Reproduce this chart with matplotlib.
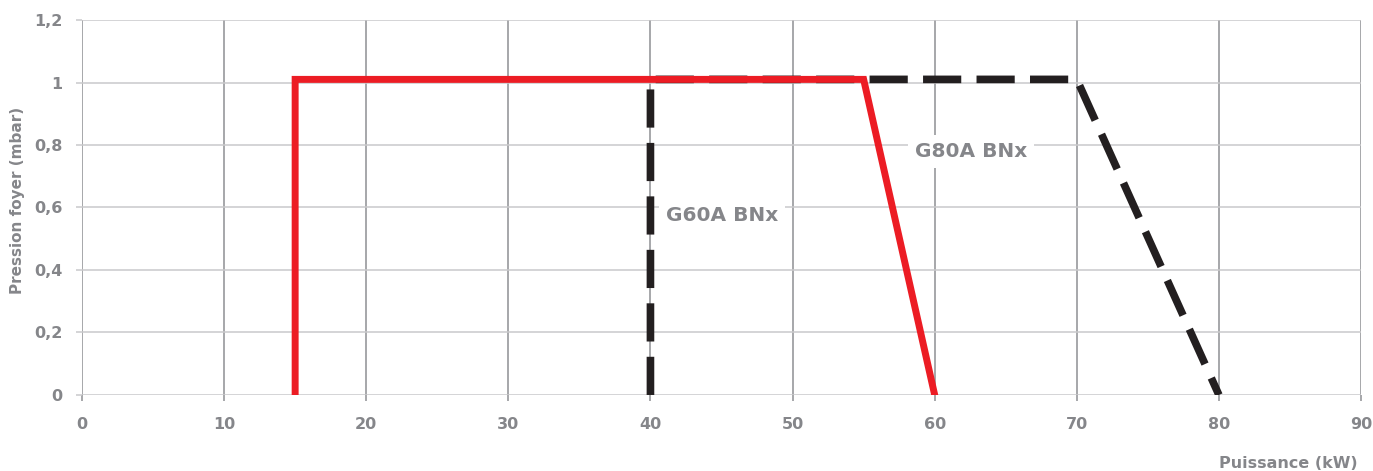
import matplotlib
matplotlib.use("Agg")
import matplotlib.pyplot as plt
from matplotlib.ticker import FuncFormatter

plt.rcParams['font.family'] = ['DejaVu Sans']

# donnees
g60_x = [40, 40, 70, 80]
g60_y = [0, 1.01, 1.01, 0]
g80_x = [15, 15, 55, 60]
g80_y = [0, 1.01, 1.01, 0]
x_ticks = [0, 10, 20, 30, 40, 50, 60, 70, 80, 90]
y_ticks = [0, 0.2, 0.4, 0.6, 0.8, 1.0, 1.2]

gris = '#85868a'

fig = plt.figure(figsize=(13.73, 4.71), dpi=100)
ax = fig.add_axes([0.0597, 0.1614, 0.9316, 0.7961])

ax.set_xlim(0, 90)
ax.set_ylim(0, 1.2)
ax.set_xticks(x_ticks)
ax.set_yticks(y_ticks)
ax.yaxis.set_major_formatter(FuncFormatter(lambda v, p: ('%g' % round(v, 1)).replace('.', ',')))

for s in ax.spines.values():
    s.set_visible(False)

for x in x_ticks:
    ax.axvline(x, color='#8e8f93', lw=1.1, zorder=1)
for y in y_ticks:
    ax.axhline(y, color='#c9c9cb', lw=1.1, zorder=1)

ax.tick_params(axis='x', length=4, width=1.1, color='#8e8f93', pad=12,
               labelsize=11.5, labelcolor=gris)
ax.tick_params(axis='y', length=4, width=1.1, color='#c9c9cb', pad=10,
               labelsize=11.5, labelcolor=gris)
for lab in ax.get_xticklabels() + ax.get_yticklabels():
    lab.set_fontweight('bold')

ax.plot(g60_x, g60_y, color='#231f20', lw=5.5, dashes=(5, 2),
        solid_capstyle='butt', zorder=3)
ax.plot(g80_x, g80_y, color='#ec1c24', lw=5, solid_joinstyle='miter', zorder=4)

ax.text(41.1, 0.575, 'G60A BNx', fontsize=14.5, fontweight='bold', color=gris,
        ha='left', va='center', zorder=5,
        bbox=dict(facecolor='white', edgecolor='none', pad=5))
ax.text(58.6, 0.78, 'G80A BNx', fontsize=14.5, fontweight='bold', color=gris,
        ha='left', va='center', zorder=5,
        bbox=dict(facecolor='white', edgecolor='none', pad=5))

fig.text(0.0131, 0.575, 'Pression foyer (mbar)', rotation=90, fontsize=11,
         fontweight='bold', color=gris, ha='center', va='center')
fig.text(0.9887, 0.0, 'Puissance (kW)', fontsize=11.5, fontweight='bold',
         color=gris, ha='right', va='bottom')

fig.savefig('out.png', dpi=100)
